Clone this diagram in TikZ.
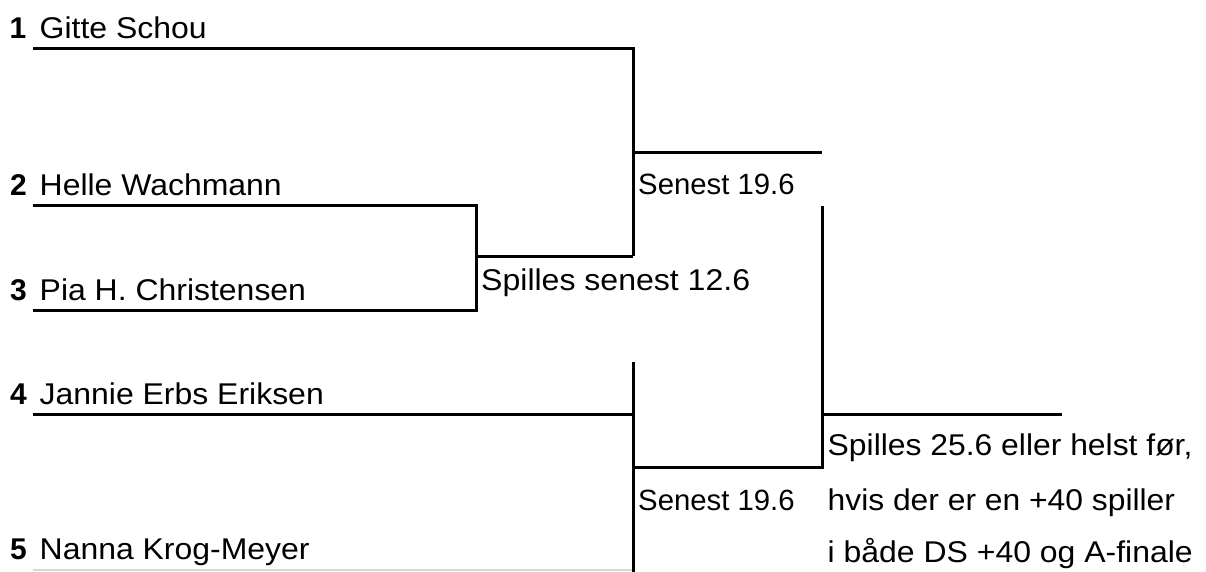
\documentclass[tikz,border=0pt]{standalone}
\usepackage{fontspec}
\setmainfont{Liberation Sans}
\usepackage{graphicx}
\begin{document}
\begin{tikzpicture}[x=1pt,y=-1pt,
  bline/.style={line width=3pt},
  greyline/.style={line width=1.5pt, draw={rgb,255:red,215;green,215;blue,215}},
  txt/.style={anchor=base west, inner sep=0pt, font=\fontsize{30}{36}\selectfont},
  num/.style={txt, font=\fontsize{30}{36}\selectfont\bfseries},
  small/.style={anchor=base west, inner sep=0pt, font=\fontsize{29.3}{35}\selectfont}]
\useasboundingbox (0,0) rectangle (1206,571);
\begin{scope}
\clip (0,0) rectangle (1206,571);
% coordinates
\coordinate (a1) at (33,48);   \coordinate (c1) at (633,48);
\coordinate (m1) at (633,256);
\coordinate (a2) at (33,205);  \coordinate (c2) at (476,205);
\coordinate (a3) at (33,310);  \coordinate (c3) at (476,310);
\coordinate (j23) at (476,256);
\coordinate (w1) at (633,152); \coordinate (w1e) at (822,152);
\coordinate (v2t) at (822,206); \coordinate (v2b) at (822,467);
\coordinate (j45) at (633,467);
\coordinate (a4) at (33,414);  \coordinate (c4) at (633,414);
\coordinate (v3t) at (633,362); \coordinate (v3b) at (633,580);
\coordinate (f) at (822,414);  \coordinate (fe) at (1062,414);
\coordinate (a5) at (33,570);  \coordinate (c5) at (633,570);
% lines
\draw[greyline] (a5) -- (c5);
\draw[bline] (a1) -- (c1) -- (m1);
\draw[bline] (a2) -- (c2) -- (c3) -- (a3);
\draw[bline] (j23) -- (m1);
\draw[bline] (w1) -- (w1e);
\draw[bline] (v2t) -- (v2b) -- (j45);
\draw[bline] (a4) -- (c4);
\draw[bline] (v3t) -- (v3b);
\draw[bline] (f) -- (fe);
\end{scope}
% names
\node[num] (n1) at (9.5,38) {1};
\node[txt] (p1) at (39.5,38) {\scalebox{1.065}[1]{Gitte Schou}};
\node[num] (n2) at (10,195) {2};
\node[txt] (p2) at (39.5,195) {\scalebox{1.065}[1]{Helle Wachmann}};
\node[num] (n3) at (10,300) {3};
\node[txt] (p3) at (39.5,300) {\scalebox{1.065}[1]{Pia H. Christensen}};
\node[num] (n4) at (10,404.5) {4};
\node[txt] (p4) at (39.5,404.5) {\scalebox{1.065}[1]{Jannie Erbs Eriksen}};
\node[num] (n5) at (10,559.5) {5};
\node[txt] (p5) at (39.5,559.5) {\scalebox{1.065}[1]{Nanna Krog-Meyer}};
% match labels
\node[txt] (l1) at (481,290) {\scalebox{1.068}[1]{Spilles senest 12.6}};
\node[small] (l2) at (638,194) {Senest 19.6};
\node[small] (l3) at (638,510) {Senest 19.6};
\node[txt] (r1) at (827.5,455) {\scalebox{1.062}[1]{Spilles 25.6 eller helst før,}};
\node[txt] (r2) at (827.5,510) {\scalebox{1.06}[1]{hvis der er en +40 spiller}};
\node[txt] (r3) at (827.5,562) {\scalebox{1.065}[1]{i både DS +40 og A-finale}};
\end{tikzpicture}
\end{document}
